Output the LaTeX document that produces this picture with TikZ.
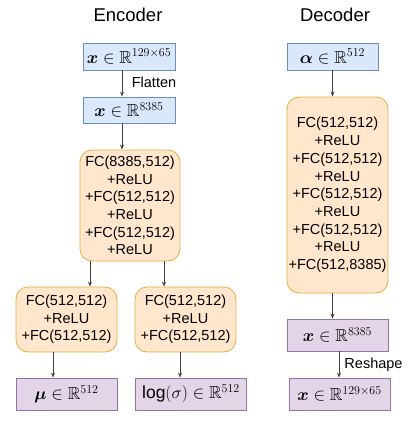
\documentclass[tikz,border=0pt]{standalone}
\usepackage{amsmath,amssymb,bm}
\usepackage{fontspec}
\setmainfont{Liberation Sans}
\usetikzlibrary{arrows.meta}
\definecolor{inpfill}{HTML}{DAE8FC}
\definecolor{inpline}{HTML}{6C8EBF}
\definecolor{fcfill}{HTML}{FFE6CC}
\definecolor{fcline}{HTML}{E0B040}
\definecolor{outfill}{HTML}{E1D5E7}
\definecolor{outline}{HTML}{9673A6}
\begin{document}
\begin{tikzpicture}[x=1pt, y=-1pt, line width=0.8pt,
      font=\fontsize{14.5}{17.7}\selectfont,
      ttl/.style={font=\fontsize{18.5}{22}\selectfont},
      mth/.style={draw, inner sep=0pt, minimum height=27pt, font=\fontsize{17.5}{20}\selectfont},
      inp/.style={mth, fill=inpfill, draw=inpline},
      res/.style={mth, fill=outfill, draw=outline, minimum height=32pt},
      fc/.style={draw=fcline, fill=fcfill, rounded corners=12pt, align=center, inner sep=0pt, minimum width=101pt},
      arr/.style={-{Stealth[length=5pt,width=4pt]}, draw=black!75}]
    \useasboundingbox (0,0) rectangle (415,423);
    % encoder
    \node[ttl] (enct) at (128,15) {Encoder};
    \node[inp, minimum width=92pt] (ein)   at (129,56.5) {$\bm{x}\in\mathbb{R}^{129\times 65}$};
    \node[inp, minimum width=92pt, minimum height=26pt] (eflat) at (129,110) {$\bm{x}\in\mathbb{R}^{8385}$};
    \node[fc, minimum width=100pt, minimum height=111pt] (efc) at (130,205.5)
      {FC(8385,512)\\+ReLU\\+FC(512,512)\\+ReLU\\+FC(512,512)\\+ReLU};
    \node[fc, minimum height=65pt] (emu)  at (66.5,319.5) {FC(512,512)\\+ReLU\\+FC(512,512)};
    \node[fc, minimum height=65pt] (esig) at (185.5,319.5) {FC(512,512)\\+ReLU\\+FC(512,512)};
    \node[res, minimum width=101pt] (mu)     at (66.5,394) {$\bm{\mu}\in\mathbb{R}^{512}$};
    \node[res, minimum width=111pt] (logsig) at (191,394) {$\log(\sigma)\in\mathbb{R}^{512}$};
    % decoder
    \node[ttl] (dect) at (335,15) {Decoder};
    \node[inp, minimum width=91pt] (din) at (332.5,56.5) {$\bm{\alpha}\in\mathbb{R}^{512}$};
    \node[fc, minimum height=196pt] (dfc) at (337.5,195)
      {FC(512,512)\\+ReLU\\+FC(512,512)\\+ReLU\\+FC(512,512)\\+ReLU\\+FC(512,512)\\+ReLU\\+FC(512,8385)};
    \node[res, minimum width=101pt] (dflat) at (337.5,335) {$\bm{x}\in\mathbb{R}^{8385}$};
    \node[res, minimum width=101pt] (dout)  at (339.5,394) {$\bm{x}\in\mathbb{R}^{129\times 65}$};
    % labels
    \node (flat) at (154,82) {Flatten};
    \node (resh) at (373.5,365) {Reshape};
    % connectors
    \draw[arr] ([xshift=-7pt]ein.south) -- ([xshift=-7pt]eflat.north);
    \draw[arr] ([xshift=-7pt]eflat.south) -- ([xshift=-8pt]efc.north);
    \draw[arr] ([xshift=-40pt]efc.south) -- ([xshift=23.5pt]emu.north);
    \draw[arr] ([xshift=34pt]efc.south) -- ([xshift=-21.5pt]esig.north);
    \draw[arr] ([xshift=-13.5pt]emu.south) -- ([xshift=-13.5pt]mu.north);
    \draw[arr] ([xshift=-5.5pt]esig.south) -- ([xshift=-11pt]logsig.north);
    \draw[arr] (din.south) -- ([xshift=-5pt]dfc.north);
    \draw[arr] ([xshift=-5pt]dfc.south) -- ([xshift=-5pt]dflat.north);
    \draw[arr] ([xshift=1.5pt]dflat.south) -- ([xshift=-0.5pt]dout.north);
  \end{tikzpicture}
\end{document}
